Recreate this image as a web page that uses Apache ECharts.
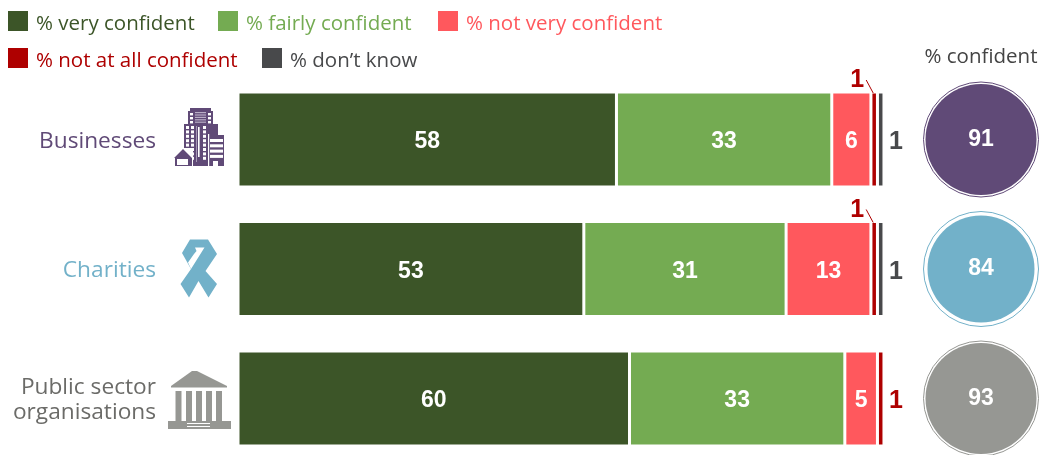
<!DOCTYPE html>
<html>
<head>
<meta charset="utf-8">
<style>html,body{margin:0;padding:0;background:#fff}#chart{width:1042px;height:455px}</style>
<script src="https://cdn.jsdelivr.net/npm/echarts@6/dist/echarts.min.js"></script>
</head>
<body>
<div id="chart"></div>
<script>
// Survey responses per sector, in percent
const categories = ['Businesses', 'Charities', 'Public sector\norganisations'];
const veryConfident = [58, 53, 60];
const fairlyConfident = [33, 31, 33];
const notVeryConfident = [6, 13, 5];
const notAtAllConfident = [1, 1, 1];
const dontKnow = [1, 1, null];
const totalConfident = [91, 84, 93];
const confidentHeader = '% confident';

const COLORS = {
  very: '#3c5528', fairly: '#74ab52', notVery: '#ff585d', notAtAll: '#ae0000', dk: '#48494b',
  business: '#604a77', charity: '#72b1c9', publicFill: '#969793', publicText: '#6b6b68'
};
const SANS = '"Open Sans", "Noto Sans", sans-serif';
const BOLD = '"Liberation Sans", Arial, sans-serif';
const catText = [COLORS.business, COLORS.charity, COLORS.publicText];
const circleFill = [COLORS.business, COLORS.charity, COLORS.publicFill];
const circleSize = [111, 107, 111];

const barStyle = color => ({ color, borderColor: '#fff', borderWidth: 1.5 });
const inner = { show: true, position: 'inside', offset: [0, 2.5], color: '#fff', fontFamily: BOLD, fontWeight: 'bold', fontSize: 23 };
const sideLabel = color => ({
  show: true, position: 'right', distance: 5, offset: [0, 3], color, fontFamily: BOLD, fontWeight: 'bold', fontSize: 25
});

function stacked(name, color, data, label) {
  return {
    type: 'bar', name, stack: 'share', barWidth: 95, xAxisIndex: 0, yAxisIndex: 0,
    itemStyle: barStyle(color), label, data, silent: true
  };
}

// "not at all" sits above the bar where another thin segment follows it, beside the bar otherwise
const notAtAllItems = notAtAllConfident.map((v, i) => ({
  value: v,
  label: dontKnow[i] != null
    ? { show: true, position: 'top', distance: 0, offset: [-17, 1], color: COLORS.notAtAll, fontFamily: BOLD, fontWeight: 'bold', fontSize: 25 }
    : sideLabel(COLORS.notAtAll)
}));

// thin leader from a raised label down to its segment
const leaderData = notAtAllConfident.map((v, i) => dontKnow[i] != null
  ? [veryConfident[i] + fairlyConfident[i] + notVeryConfident[i] + v / 2, i] : null).filter(Boolean);

// Swatch path carries an empty tail below the square, so the legend text centres slightly lower
const SWATCH = 'path://M0 0H20V20H0Z M0 26L0.01 26';

function legendEntry(name, color, left, top) {
  return {
    left, top, padding: 0, itemWidth: 20, itemHeight: 26, icon: SWATCH, selectedMode: false,
    itemStyle: { borderWidth: 0 },
    data: [{ name, textStyle: { color, fontFamily: SANS, fontSize: 20.5, padding: [0, 0, 0, 3] } }]
  };
}

// ----- pictograms beside the sector names -----
const rect = (x, y, w, h, fill) => ({ type: 'rect', silent: true, shape: { x, y, width: w, height: h }, style: { fill } });
const poly = (points, fill) => ({ type: 'polygon', silent: true, shape: { points }, style: { fill } });

function buildingIcon() {
  const c = COLORS.business, w = '#fff', out = [];
  out.push(rect(190, 108, 21, 4, c), rect(188, 111, 25, 15, c), rect(184, 124, 34, 42, c), rect(209, 135, 15, 31, c));
  // upper tower windows
  for (let y = 113; y < 124; y += 4) { out.push(rect(190, y, 3, 2.4, w), rect(208, y, 3, 2.4, w)); }
  for (let y = 112; y < 124; y += 2.4) { out.push(rect(195, y, 11, 1.2, '#b9aec6')); }
  // main tower windows and centre slit
  for (let y = 126; y < 160; y += 4.4) {
    out.push(rect(186, y, 3, 3, w), rect(191, y, 3, 3, w), rect(203, y, 3, 3, w));
  }
  out.push(rect(198, 127, 1.6, 30, w), rect(196, 126, 0.8, 36, '#b9aec6'));
  // right-hand block
  out.push(rect(208, 134, 1.2, 32, w));
  for (let y = 139; y < 158; y += 5.3) { out.push(rect(210, y, 13, 3, w)); }
  out.push(rect(213, 161, 5, 5, w));
  // small house in front
  out.push(rect(176, 148, 17, 18, w));
  out.push(poly([[174, 158], [183, 149], [192, 158], [192, 166], [175, 166], [175, 158]], c), rect(177, 159, 11, 6, w));
  return out;
}

function ribbonIcon() {
  const c = COLORS.charity;
  return [
    poly([[190, 239.5], [208, 239.5], [217, 254], [205.5, 271], [217, 284], [208.5, 297.5], [198.5, 281], [189, 297.5], [180.5, 284], [191, 269], [182, 253]], c),
    poly([[195, 247.5], [204.5, 247.5], [191, 269], [188, 262.5], [194, 254], [196.5, 251]], '#fff')
  ];
}

function templeIcon() {
  const c = COLORS.publicFill, out = [];
  out.push(poly([[192, 371], [197, 371], [227, 386], [227, 387.5], [171, 387.5], [171, 386]], c));
  [175.5, 186, 196, 206, 216].forEach(x => out.push(rect(x, 391, 6, 31, c)));
  out.push(rect(168, 421, 63, 8, c), rect(187, 423, 23, 1, '#fff'), rect(187, 426, 23, 1, '#fff'));
  return out;
}

const option = {
  backgroundColor: '#fff',
  animation: false,
  legend: [
    legendEntry('% very confident', COLORS.very, 8, 11),
    legendEntry('% fairly confident', COLORS.fairly, 218, 11),
    legendEntry('% not very confident', COLORS.notVery, 438, 11),
    legendEntry('% not at all confident', COLORS.notAtAll, 8, 48),
    legendEntry('% don\u2019t know', COLORS.dk, 262, 48)
  ],
  grid: [
    { left: 238, top: 74.75, width: 652.5, height: 388.5, outerBoundsMode: 'none' },
    { left: 923, top: 74.75, width: 116, height: 388.5, outerBoundsMode: 'none' },
    // sector names sit a touch below the bar centres
    { left: 238, top: 76.75, width: 652.5, height: 388.5, outerBoundsMode: 'none' }
  ],
  xAxis: [
    { type: 'value', gridIndex: 0, min: 0, max: 100, show: false },
    {
      type: 'category', gridIndex: 1, position: 'top', data: [confidentHeader],
      axisLine: { show: false }, axisTick: { show: false },
      axisLabel: { color: '#444', fontFamily: SANS, fontSize: 20.5, margin: 7 }
    },
    { type: 'value', gridIndex: 2, min: 0, max: 100, show: false }
  ],
  yAxis: [
    { type: 'category', gridIndex: 0, inverse: true, data: categories, show: false },
    { type: 'category', gridIndex: 1, inverse: true, data: categories, show: false },
    {
      type: 'category', gridIndex: 2, inverse: true, data: categories,
      axisLine: { show: false }, axisTick: { show: false },
      axisLabel: {
        margin: 82, align: 'right', fontFamily: SANS, fontSize: 22.7, lineHeight: 25,
        color: (v, i) => catText[i]
      }
    }
  ],
  series: [
    stacked('% very confident', COLORS.very, veryConfident, inner),
    stacked('% fairly confident', COLORS.fairly, fairlyConfident, inner),
    stacked('% not very confident', COLORS.notVery, notVeryConfident, inner),
    stacked('% not at all confident', COLORS.notAtAll, notAtAllItems),
    stacked('% don\u2019t know', COLORS.dk, dontKnow, sideLabel(COLORS.dk)),
    {
      type: 'custom', xAxisIndex: 0, yAxisIndex: 0, silent: true, clip: false, z: 5, data: leaderData,
      renderItem(params, api) {
        const p = api.coord([api.value(0), api.value(1)]);
        const top = p[1] - 46.5;
        return {
          type: 'line',
          shape: { x1: p[0] - 8, y1: top - 13, x2: p[0] - 1, y2: top },
          style: { stroke: COLORS.notAtAll, lineWidth: 1 }
        };
      }
    },
    {
      // thin outer ring around each total
      type: 'scatter', xAxisIndex: 1, yAxisIndex: 1, clip: false, silent: true, symbolSize: 115, z: 3,
      data: categories.map((c, i) => ({
        value: [confidentHeader, c],
        itemStyle: { color: '#fff', borderWidth: 1, borderColor: circleFill[i], opacity: 1 }
      }))
    },
    {
      type: 'scatter', xAxisIndex: 1, yAxisIndex: 1, clip: false, silent: true, z: 4,
      symbolSize: (v, p) => circleSize[p.dataIndex],
      data: categories.map((c, i) => ({
        value: [confidentHeader, c, totalConfident[i]],
        itemStyle: { color: circleFill[i], opacity: 1 }
      })),
      label: {
        show: true, position: 'inside', formatter: p => p.value[2], color: '#fff',
        fontFamily: BOLD, fontWeight: 'bold', fontSize: 23
      }
    }
  ],
  graphic: { elements: [...buildingIcon(), ...ribbonIcon(), ...templeIcon()] }
};

echarts.init(document.getElementById('chart'), null, { renderer: 'canvas' }).setOption(option);
</script>
</body>
</html>
